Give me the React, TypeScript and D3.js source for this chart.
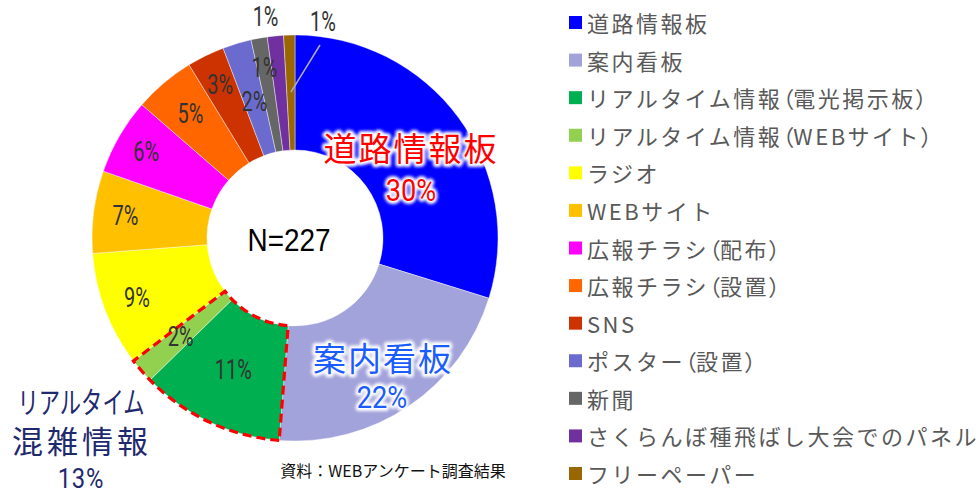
import React from "react";
import * as d3 from "d3";

const categories = [
  "道路情報板",
  "案内看板",
  "リアルタイム情報（電光掲示板）",
  "リアルタイム情報（WEBサイト）",
  "ラジオ",
  "WEBサイト",
  "広報チラシ（配布）",
  "広報チラシ（設置）",
  "SNS",
  "ポスター（設置）",
  "新聞",
  "さくらんぼ種飛ばし大会でのパネル",
  "フリーペーパー",
];
const values = [30.0, 21.6, 11.5, 2.0, 9.2, 6.6, 6.1, 4.9, 3.0, 2.3, 1.3, 1.3, 0.9];
const pctLabels = ["30%", "22%", "11%", "2%", "9%", "7%", "6%", "5%", "3%", "2%", "1%", "1%", "1%"];
const colors = [
  "#0000ff", "#a3a3dc", "#00b050", "#92d050", "#ffff00", "#ffc000", "#ff00ff",
  "#ff6600", "#cc3300", "#6b6bcf", "#666666", "#7030a0", "#996600",
];
const totalN = 227;

const W = 979;
const H = 493;
const CX = 295;
const CY = 238;
const R_OUT = 203;
const R_IN = 88;
// label radius per slice (layout only)
const labelR = [null, null, 146, 151, 169, 171, 172, 162, 170, 142, 173, 222, 150];

const numFont = "'Roboto', 'Liberation Sans', sans-serif";
const jpFont = "'Noto Sans CJK JP', 'Noto Sans', sans-serif";

function GlowText({ x, y, size, fill, children, family = jpFont, ls = 0, sx = 1 }: any) {
  const common: any = {
    fontSize: size, fontFamily: family, textAnchor: "middle", dominantBaseline: "central", letterSpacing: ls,
  };
  return (
    <g transform={`translate(${x},${y}) scale(${sx},1)`}>
      <text {...common} fill="#fff" stroke="#fff" strokeWidth={6} strokeLinejoin="round" filter="url(#blur)">{children}</text>
      <text {...common} fill={fill}>{children}</text>
    </g>
  );
}

function LegendText({ x, y, text }: { x: number; y: number; text: string }) {
  const parts = text.split(/([（）])/).filter((s) => s.length);
  return (
    <text x={x} y={y} fontSize={22} fontFamily={jpFont} fill="#595959" dominantBaseline="central">
      {parts.map((p, i) =>
        p === "（" || p === "）" ? (
          <tspan key={i} letterSpacing={0} style={{ fontFeatureSettings: '"palt"' }}>{p}</tspan>
        ) : (
          <tspan key={i} letterSpacing={2.5}>{p}</tspan>
        )
      )}
    </text>
  );
}

export default function App() {
  const pie = d3.pie<number>().sort(null).value((d) => d)(values);
  const arc = d3.arc<any>().innerRadius(R_IN).outerRadius(R_OUT);
  const hl = d3.arc<any>().innerRadius(R_IN).outerRadius(R_OUT)({
    startAngle: pie[2].startAngle,
    endAngle: pie[3].endAngle,
  } as any);

  const pos = (a: any, r: number) => {
    const m = (a.startAngle + a.endAngle) / 2;
    return [Math.sin(m) * r, -Math.cos(m) * r];
  };

  const legendY = d3.scalePoint<string>().domain(categories).range([22, 473]);
  const brownIn = pos(pie[12], 146);

  const pct = (x: number, y: number, s: string, key?: any) => (
    <g key={key} transform={`translate(${x},${y}) scale(0.74,1)`}>
      <text fontSize={27} fontFamily={numFont} fill="#333" textAnchor="middle" dominantBaseline="central">{s}</text>
    </g>
  );

  return (
    <svg width={W} height={H} style={{ position: "absolute", left: 0, top: 0, background: "#fff" }}>
      <defs>
        <filter id="blur" x="-20%" y="-20%" width="140%" height="140%">
          <feGaussianBlur stdDeviation="1.6" />
        </filter>
      </defs>
      <g transform={`translate(${CX},${CY})`}>
        {pie.map((p, i) => (
          <path key={i} d={arc(p) as string} fill={colors[i]} stroke="#fff" strokeWidth={0.6} strokeOpacity={0.7} />
        ))}
        <path d={hl as string} fill="none" stroke="#ff0000" strokeWidth={3.2} strokeDasharray="9 5" />
        {pie.map((p, i) => {
          const r = labelR[i];
          if (r == null || i === 12) return null;
          const [x, y] = pos(p, r);
          const dx = i === 11 ? -8 : 0;
          return pct(x + dx, y, pctLabels[i], i);
        })}
        <line x1={brownIn[0]} y1={brownIn[1]} x2={25} y2={-193} stroke="#b0b0b0" strokeWidth={1.5} />
        {pct(28, -216, pctLabels[12])}
        <g transform="translate(-6,2) scale(0.9,1)">
          <text fontSize={31} fontFamily="'Liberation Sans', sans-serif" fill="#000"
            textAnchor="middle" dominantBaseline="central">{`N=${totalN}`}</text>
        </g>
      </g>

      <GlowText x={411} y={147} size={33} fill="#ff0000" ls={2}>{categories[0]}</GlowText>
      <GlowText x={411} y={190} size={32} fill="#ff0000" family={numFont} sx={0.85}>{pctLabels[0]}</GlowText>
      <GlowText x={383} y={357} size={33} fill="#1a5cff" ls={2}>{categories[1]}</GlowText>
      <GlowText x={382} y={397} size={32} fill="#1a5cff" family={numFont} sx={0.85}>{pctLabels[1]}</GlowText>

      <GlowText x={81} y={400} size={30} fill="#1f2a6e" sx={0.71}>リアルタイム</GlowText>
      <GlowText x={82} y={439} size={31} fill="#1f2a6e" ls={4}>混雑情報</GlowText>
      <GlowText x={81} y={478} size={28} fill="#1f2a6e" family={numFont} sx={0.85} ls={1}>13%</GlowText>

      <text x={393} y={470} fontSize={16} fontFamily={jpFont} fill="#111" textAnchor="middle"
        dominantBaseline="central">資料：WEBアンケート調査結果</text>

      {categories.map((c, i) => {
        const y = legendY(c) as number;
        return (
          <g key={c}>
            <rect x={569} y={y - 6} width={13} height={13} fill={colors[i]} />
            <LegendText x={587} y={y} text={c} />
          </g>
        );
      })}
    </svg>
  );
}
